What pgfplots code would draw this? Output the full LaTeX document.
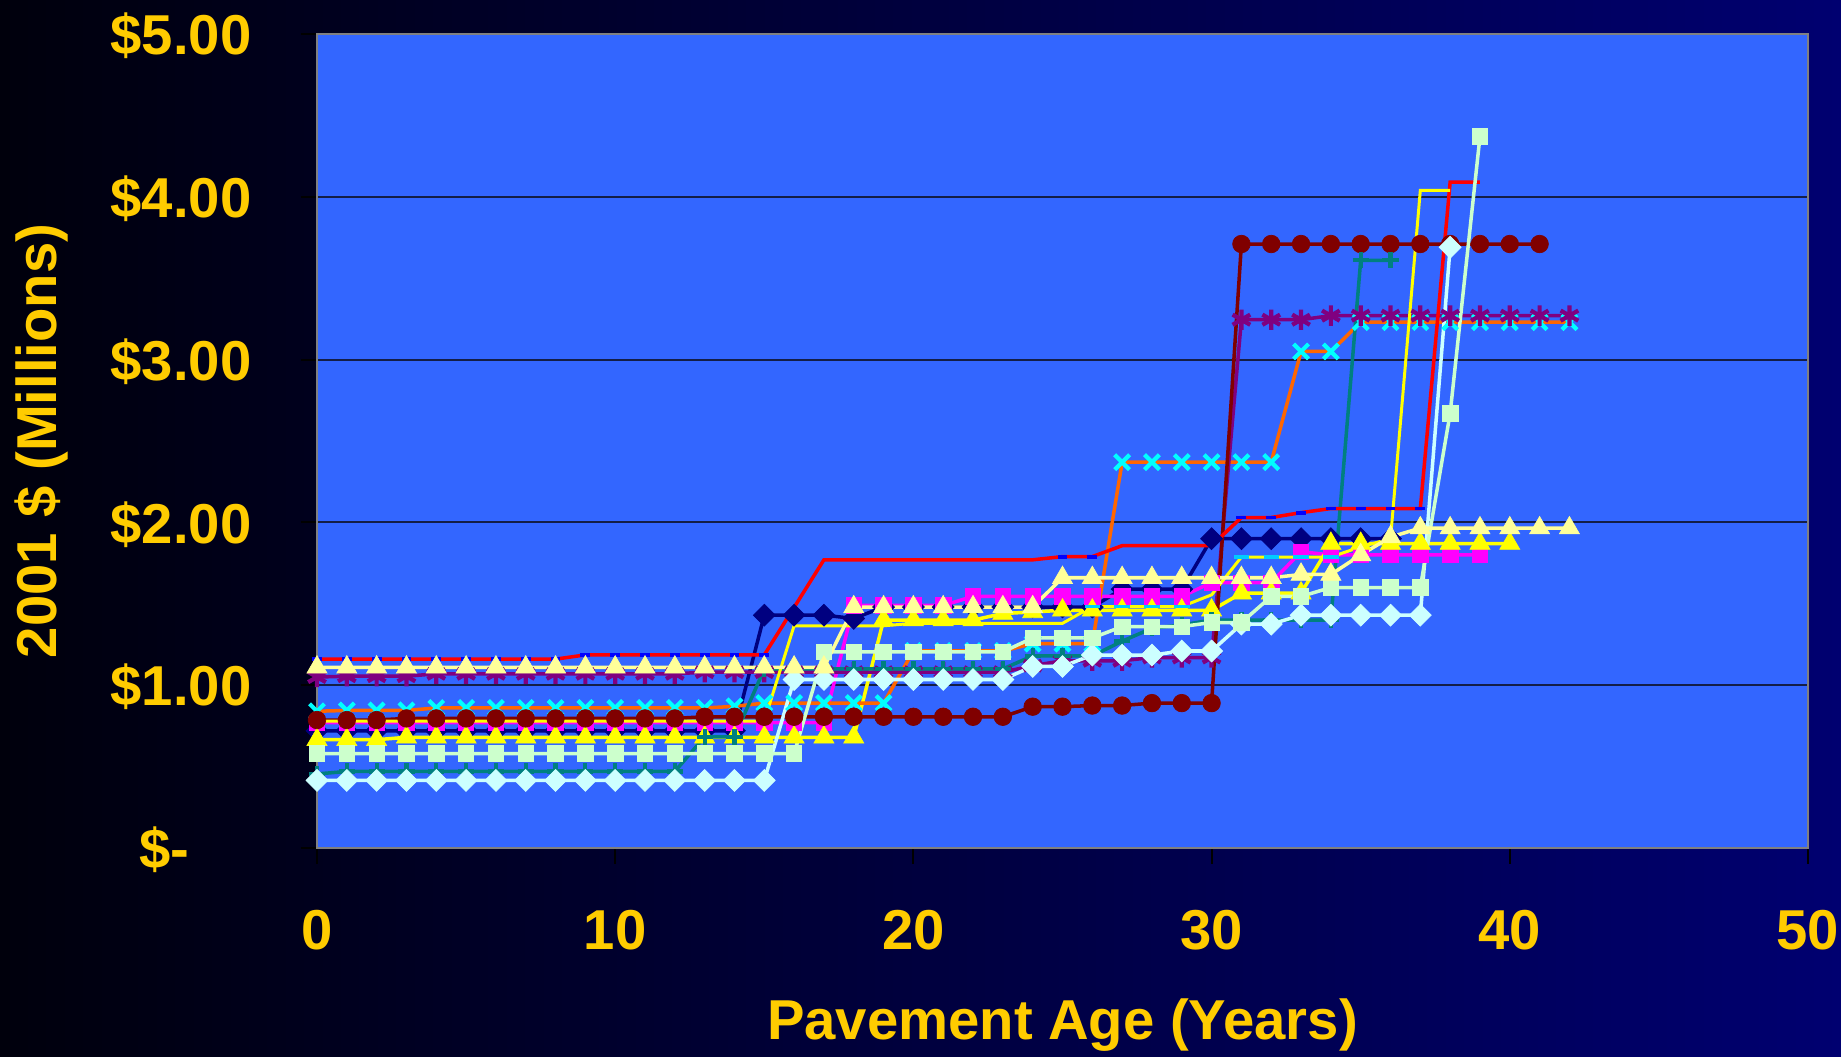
\documentclass[border=0pt]{standalone}
\usepackage{pgfplots}
\pgfplotsset{compat=1.18}
\usepackage{fontspec}
\setmainfont{Liberation Sans}

\definecolor{bgL}{RGB}{0,0,12}
\definecolor{bgR}{RGB}{0,0,112}
\definecolor{plotblue}{RGB}{51,102,255}
\definecolor{gold}{RGB}{255,204,0}
\definecolor{gridc}{RGB}{20,30,70}
\definecolor{sNavy}{RGB}{0,0,128}
\definecolor{sMagenta}{RGB}{255,0,255}
\definecolor{sYellow}{RGB}{255,255,0}
\definecolor{sOrange}{RGB}{255,102,0}
\definecolor{sCyan}{RGB}{0,255,255}
\definecolor{sPurple}{RGB}{128,0,128}
\definecolor{sMaroon}{RGB}{128,0,0}
\definecolor{sTeal}{RGB}{0,128,128}
\definecolor{sRed}{RGB}{255,0,0}
\definecolor{sBlue}{RGB}{0,0,255}
\definecolor{sSky}{RGB}{0,204,255}
\definecolor{sLtCyan}{RGB}{204,255,255}
\definecolor{sLtGreen}{RGB}{204,255,204}
\definecolor{sLtYellow}{RGB}{255,255,153}

\begin{document}
\begin{tikzpicture}
\shade[left color=bgL, right color=bgR] (0,0) rectangle (184.1mm,105.7mm);
\begin{axis}[
  at={(31.7mm,20.9mm)}, anchor=south west,
  scale only axis, width=149.1mm, height=81.4mm,
  xmin=0, xmax=50, ymin=0, ymax=5,
  clip=false,
  axis background/.style={fill=plotblue},
  axis line style={draw=gray, line width=0.6pt},
  xtick={0,10,20,30,40,50},
  xticklabels={0,10,20,30,40,50},
  ytick={0,1,2,3,4,5},
  yticklabels={{\$-\hspace*{6.2mm}},{\$1.00},{\$2.00},{\$3.00},{\$4.00},{\$5.00}},
  tick align=outside, major tick length=1.6mm,
  tick style={black, line width=0.6pt},
  xtick pos=bottom, ytick pos=left,
  ymajorgrids, major grid style={gridc, line width=0.6pt},
  ticklabel style={font=\fontsize{16}{19}\selectfont\bfseries, text=gold, inner sep=0pt},
  yticklabel style={anchor=east, xshift=-4.9mm, yshift=-0.2mm},
  xticklabel style={anchor=north, yshift=-4.6mm},
  label style={font=\fontsize{16}{19}\selectfont\bfseries, text=gold},
  xlabel={Pavement Age (Years)},
  ylabel={2001 \$ (Millions)},
  xlabel style={at={(axis description cs:0.5,-0.218)}, anchor=center},
  ylabel style={at={(axis description cs:-0.1851,0.5)}, anchor=center},
  every axis plot/.append style={line width=1pt},
]
% 1: navy diamonds
\addplot[sNavy, mark=square*, mark size=2.2pt, mark options={rotate=45, fill=sNavy, draw=sNavy, line width=0.2pt}] coordinates {
(0,0.72)(1,0.72)(2,0.72)(3,0.72)(4,0.72)(5,0.72)(6,0.72)(7,0.72)(8,0.72)(9,0.72)(10,0.72)(11,0.72)(12,0.72)(13,0.72)(14,0.72)
(15,1.43)(16,1.43)(17,1.43)(18,1.41)(19,1.48)(20,1.48)(21,1.48)(22,1.48)(23,1.48)(24,1.48)(25,1.48)(26,1.48)
(27,1.59)(28,1.59)(29,1.59)(30,1.90)(31,1.90)(32,1.90)(33,1.90)(34,1.90)(35,1.90)(36,1.90)};
% 2: magenta squares
\addplot[sMagenta, mark=square*, mark size=2.2pt, mark options={fill=sMagenta, line width=0.2pt}] coordinates {
(0,0.77)(1,0.77)(2,0.77)(3,0.77)(4,0.77)(5,0.77)(6,0.77)(7,0.77)(8,0.77)(9,0.77)(10,0.77)(11,0.77)(12,0.77)(13,0.77)(14,0.77)(15,0.77)(16,0.77)(17,0.77)
(18,1.49)(19,1.49)(20,1.49)(21,1.49)(22,1.545)(23,1.545)(24,1.545)(25,1.545)(26,1.545)(27,1.545)(28,1.545)(29,1.545)
(30,1.63)(31,1.63)(32,1.63)(33,1.82)(34,1.80)(35,1.80)(36,1.80)(37,1.80)(38,1.80)(39,1.80)};
% 3: yellow triangles
\addplot[sYellow, mark=triangle*, mark size=3.3pt, mark options={fill=sYellow, line width=0.2pt}] coordinates {
(0,0.665)(1,0.665)(2,0.665)(3,0.68)(4,0.68)(5,0.68)(6,0.68)(7,0.68)(8,0.68)(9,0.68)(10,0.68)(11,0.68)(12,0.68)(13,0.68)(14,0.68)(15,0.68)(16,0.68)(17,0.68)(18,0.68)
(19,1.40)(20,1.40)(21,1.40)(22,1.40)(23,1.44)(24,1.45)(25,1.46)(26,1.46)(27,1.46)(28,1.46)(29,1.46)(30,1.46)
(31,1.565)(32,1.565)(33,1.565)(34,1.87)(35,1.87)(36,1.87)(37,1.87)(38,1.87)(39,1.87)(40,1.87)};
% 4: orange line, cyan crosses
\addplot[sOrange, mark=x, mark size=3pt, mark options={draw=sCyan, line width=1.2pt}] coordinates {
(0,0.84)(1,0.845)(2,0.845)(3,0.845)(4,0.86)(5,0.86)(6,0.86)(7,0.86)(8,0.86)(9,0.86)(10,0.86)(11,0.86)(12,0.86)(13,0.86)(14,0.87)
(15,0.89)(16,0.89)(17,0.89)(18,0.89)(19,0.89)(20,1.21)(21,1.21)(22,1.21)(23,1.21)(24,1.255)(25,1.255)(26,1.255)
(27,2.37)(28,2.37)(29,2.37)(30,2.37)(31,2.37)(32,2.37)(33,3.05)(34,3.05)
(35,3.23)(36,3.23)(37,3.23)(38,3.23)(39,3.23)(40,3.23)(41,3.23)(42,3.23)};
% 5: purple asterisks
\addplot[sPurple, mark=asterisk, mark size=2.9pt, mark options={line width=1.2pt}] coordinates {
(0,1.05)(1,1.055)(2,1.055)(3,1.055)(4,1.07)(5,1.07)(6,1.07)(7,1.07)(8,1.07)(9,1.07)(10,1.07)(11,1.07)(12,1.07)
(13,1.08)(14,1.08)(15,1.08)(16,1.08)(17,1.08)(18,1.08)(19,1.08)(20,1.08)(21,1.08)(22,1.08)(23,1.08)
(24,1.12)(25,1.15)(26,1.15)(27,1.15)(28,1.17)(29,1.17)(30,1.17)(31,3.245)(32,3.245)(33,3.245)
(34,3.27)(35,3.27)(36,3.27)(37,3.27)(38,3.27)(39,3.27)(40,3.27)(41,3.27)(42,3.27)};
% 6: maroon circles
\addplot[sMaroon, mark=*, mark size=2.5pt, mark options={fill=sMaroon, line width=0.2pt}] coordinates {
(0,0.786)(1,0.786)(2,0.786)(3,0.796)(4,0.796)(5,0.796)(6,0.796)(7,0.796)(8,0.796)(9,0.796)(10,0.796)(11,0.796)(12,0.796)
(13,0.806)(14,0.806)(15,0.806)(16,0.806)(17,0.806)(18,0.806)(19,0.806)(20,0.806)(21,0.806)(22,0.806)(23,0.806)
(24,0.868)(25,0.868)(26,0.875)(27,0.875)(28,0.89)(29,0.89)(30,0.89)
(31,3.71)(32,3.71)(33,3.71)(34,3.71)(35,3.71)(36,3.71)(37,3.71)(38,3.71)(39,3.71)(40,3.71)(41,3.71)};
% 7: teal plus
\addplot[sTeal, mark=+, mark size=2.3pt, mark options={line width=1.2pt}] coordinates {
(0,0.455)(1,0.47)(2,0.47)(3,0.47)(4,0.47)(5,0.47)(6,0.47)(7,0.47)(8,0.47)(9,0.47)(10,0.47)(11,0.47)(12,0.47)
(13,0.683)(14,0.683)(15,1.10)(16,1.10)(17,1.10)(18,1.10)(19,1.10)(20,1.10)(21,1.10)(22,1.10)(23,1.10)
(24,1.18)(25,1.18)(26,1.18)(27,1.27)(28,1.35)(29,1.37)(30,1.40)(31,1.40)(32,1.40)(33,1.40)(34,1.40)(35,3.61)(36,3.61)};
% 8: red line with blue dash markers
\addplot[sRed, no marks] coordinates {
(0,1.16)(1,1.16)(2,1.16)(3,1.16)(4,1.16)(5,1.16)(6,1.16)(7,1.16)(8,1.16)(9,1.186)(10,1.186)(11,1.186)(12,1.186)(13,1.186)(14,1.186)(15,1.186)
(17,1.77)(24,1.77)(25,1.79)(26,1.79)(27,1.857)(28,1.857)(29,1.857)(30,1.857)(31,2.03)(32,2.03)(33,2.06)
(34,2.085)(35,2.085)(36,2.085)(37,2.085)(38,4.09)(39,4.09)};
\addplot[only marks, mark=-, mark size=1.4pt, mark options={draw=sBlue, line width=1.1pt}] coordinates {
(0,1.16)(1,1.16)(2,1.16)(3,1.16)(4,1.16)(5,1.16)(6,1.16)(7,1.16)(8,1.16)(9,1.186)(10,1.186)(11,1.186)(12,1.186)(13,1.186)(14,1.186)(15,1.186)
(25,1.79)(26,1.79)(31,2.03)(32,2.03)(33,2.06)(34,2.085)(35,2.085)(36,2.085)(37,2.085)};
% 9: yellow line with sky-blue dash markers
\addplot[sYellow, line width=0.85pt, no marks] coordinates {
(0,0.78)(1,0.78)(2,0.78)(3,0.78)(4,0.78)(5,0.78)(6,0.78)(7,0.78)(8,0.78)(9,0.78)(10,0.78)(11,0.78)(12,0.78)(13,0.78)(14,0.78)(15,0.78)
(16,1.365)(17,1.365)(18,1.365)(19,1.365)(20,1.38)(21,1.38)(22,1.38)(23,1.38)(24,1.38)(25,1.38)
(26,1.483)(27,1.483)(28,1.483)(29,1.483)(30,1.555)(31,1.787)(32,1.787)(33,1.787)(34,1.787)(35,1.85)(36,1.90)(37,4.04)(38,4.04)};
\addplot[only marks, mark=-, mark size=2.2pt, mark options={draw=sSky, line width=1.1pt}] coordinates {
(26,1.483)(27,1.483)(28,1.483)(29,1.483)(31,1.787)(32,1.787)(33,1.787)(34,1.787)};
% 10: light cyan diamonds
\addplot[sLtCyan, mark=square*, mark size=2.2pt, mark options={rotate=45, fill=sLtCyan, line width=0.2pt}] coordinates {
(0,0.415)(1,0.415)(2,0.415)(3,0.415)(4,0.415)(5,0.415)(6,0.415)(7,0.415)(8,0.415)(9,0.415)(10,0.415)(11,0.415)(12,0.415)(13,0.415)(14,0.415)(15,0.415)
(16,1.035)(17,1.035)(18,1.035)(19,1.035)(20,1.035)(21,1.035)(22,1.035)(23,1.035)(24,1.115)(25,1.115)
(26,1.185)(27,1.185)(28,1.185)(29,1.21)(30,1.21)(31,1.375)(32,1.375)(33,1.43)(34,1.43)(35,1.43)(36,1.43)(37,1.43)(38,3.69)};
% 11: light green squares
\addplot[sLtGreen, mark=square*, mark size=2.2pt, mark options={fill=sLtGreen, line width=0.2pt}] coordinates {
(0,0.58)(1,0.58)(2,0.58)(3,0.58)(4,0.58)(5,0.58)(6,0.58)(7,0.58)(8,0.58)(9,0.58)(10,0.58)(11,0.58)(12,0.58)(13,0.58)(14,0.58)(15,0.58)(16,0.58)
(17,1.205)(18,1.205)(19,1.205)(20,1.205)(21,1.205)(22,1.205)(23,1.205)(24,1.29)(25,1.29)(26,1.29)
(27,1.36)(28,1.36)(29,1.36)(30,1.385)(31,1.385)(32,1.545)(33,1.545)(34,1.60)(35,1.60)(36,1.60)(37,1.60)(38,2.67)(39,4.37)};
% 12: light yellow triangles
\addplot[sLtYellow, mark=triangle*, mark size=3.3pt, mark options={fill=sLtYellow, line width=0.2pt}] coordinates {
(0,1.11)(1,1.11)(2,1.11)(3,1.11)(4,1.11)(5,1.11)(6,1.11)(7,1.11)(8,1.11)(9,1.11)(10,1.11)(11,1.11)(12,1.11)(13,1.11)(14,1.11)(15,1.11)(16,1.11)(17,1.11)
(18,1.48)(19,1.48)(20,1.48)(21,1.48)(22,1.48)(23,1.48)(24,1.48)(25,1.66)(26,1.66)(27,1.66)(28,1.66)(29,1.66)(30,1.66)(31,1.66)(32,1.66)
(33,1.68)(34,1.68)(35,1.80)(36,1.91)(37,1.965)(38,1.965)(39,1.965)(40,1.965)(41,1.965)(42,1.965)};
\end{axis}
\pgfresetboundingbox
\useasboundingbox (0,0) rectangle (184.1mm,105.7mm);
\end{tikzpicture}
\end{document}
